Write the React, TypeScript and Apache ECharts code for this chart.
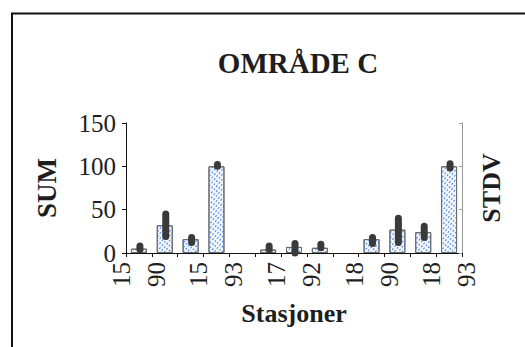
import React, { useEffect, useRef } from "react";
import * as echarts from "echarts";

const categories = ["15\n90", "", "", "15\n93", "", "", "17\n92", "", "", "18\n90", "", "", "18\n93"];
const sumValues = [5, 32, 16, 100, null, 4, 7, 6, null, 16, 27, 24, 100];
const stdvLow = [4, 19, 12, 100, null, 4, 0, 6, null, 11, 12, 18, 98];
const stdvHigh = [8, 45, 18, 102, null, 8, 11, 10, null, 18, 40, 31, 103];
const yTicks = [0, 50, 100, 150];

const FONT = "'Liberation Serif', 'Times New Roman', serif";
const INK = "#1e1e1e";

export default function App() {
  const ref = useRef<HTMLDivElement>(null);
  useEffect(() => {
    document.body.style.margin = "0";
    const chart = echarts.init(ref.current!, null, { renderer: "svg" });
    const errData = categories.map((_, i) => [i, stdvLow[i], stdvHigh[i]]);
    chart.setOption({
      animation: false,
      backgroundColor: "#ffffff",
      title: {
        text: "OMRÅDE C",
        left: 293,
        top: 43,
        textAlign: "center",
        textStyle: { fontFamily: FONT, fontWeight: "bold", fontSize: 29, color: INK },
      },
      graphic: [
        { type: "line", shape: { x1: 11, y1: 13.5, x2: 525, y2: 13.5 }, style: { stroke: "#111", lineWidth: 2 } },
        { type: "line", shape: { x1: 12, y1: 13, x2: 12, y2: 347 }, style: { stroke: "#111", lineWidth: 2 } },
      ],
      grid: { left: 126, right: 63, top: 123, bottom: 94 },
      xAxis: {
        type: "category",
        data: categories,
        name: "Stasjoner",
        nameLocation: "middle",
        nameGap: 47,
        nameTextStyle: { fontFamily: FONT, fontWeight: "bold", fontSize: 26, color: INK },
        axisLine: { lineStyle: { color: "#111", width: 1 } },
        axisTick: { show: true, interval: 0, length: 4, lineStyle: { color: "#111" } },
        axisLabel: {
          interval: 2,
          rotate: 90,
          margin: 9,
          fontFamily: FONT,
          fontSize: 25,
          lineHeight: 35,
          color: INK,
        },
      },
      yAxis: [
        {
          type: "value",
          min: 0,
          max: 150,
          interval: 50,
          name: "SUM",
          nameLocation: "middle",
          nameRotate: 90,
          nameGap: 66,
          nameTextStyle: { fontFamily: FONT, fontWeight: "bold", fontSize: 27, color: INK },
          axisLine: { show: true, lineStyle: { color: "#111", width: 1 } },
          axisTick: { show: true, length: 4, lineStyle: { color: "#111" } },
          axisLabel: {
            margin: 10,
            fontFamily: FONT,
            fontSize: 25,
            color: INK,
            formatter: (v: number) => (yTicks.includes(v) ? String(v) : ""),
          },
          splitLine: { show: false },
        },
        {
          type: "value",
          min: 0,
          max: 150,
          interval: 50,
          position: "right",
          name: "STDV",
          nameLocation: "middle",
          nameRotate: 90,
          nameGap: 16,
          nameTextStyle: { fontFamily: FONT, fontWeight: "bold", fontSize: 26, color: INK, verticalAlign: "top" },
          axisLine: { show: true, lineStyle: { color: "#9a9a9a", width: 1 } },
          axisTick: { show: true, inside: true, length: 3, lineStyle: { color: "#9a9a9a" } },
          axisLabel: { show: false },
          splitLine: { show: false },
        },
      ],
      series: [
        {
          name: "SUM",
          type: "bar",
          data: sumValues,
          barWidth: 16,
          itemStyle: {
            color: "#f2f7ff",
            borderColor: "#6a6a6a",
            borderWidth: 1,
            decal: {
              symbol: "rect",
              symbolSize: 1,
              color: "#3f7fe0",
              dashArrayX: [2, 2],
              dashArrayY: [1, 2],
              rotation: -0.9,
            },
          },
        },
        {
          name: "STDV",
          type: "custom",
          yAxisIndex: 1,
          data: errData,
          encode: { x: 0, y: [1, 2] },
          renderItem: (params: any, api: any) => {
            const lo = api.value(1);
            const hi = api.value(2);
            if (lo === null || hi === null || isNaN(lo) || isNaN(hi)) return null;
            const p1 = api.coord([api.value(0), lo]);
            const p2 = api.coord([api.value(0), hi]);
            return {
              type: "line",
              shape: { x1: p1[0] + 1, y1: p1[1], x2: p2[0] + 1, y2: p2[1] },
              style: { stroke: "#3a3a3a", lineWidth: 7, lineCap: "round" },
              z2: 10,
            };
          },
        },
      ],
    });
    return () => chart.dispose();
  }, []);
  return <div ref={ref} style={{ width: 525, height: 347, overflow: "hidden" }} />;
}
